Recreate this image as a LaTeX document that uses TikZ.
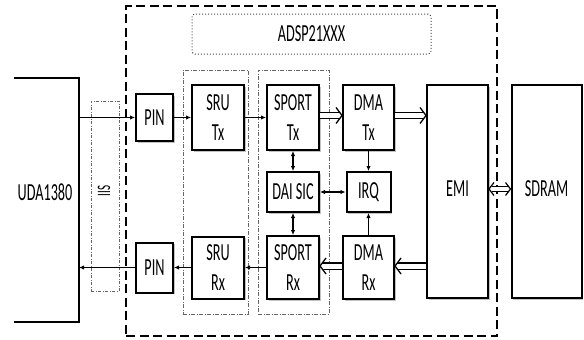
\documentclass[tikz,border=0pt]{standalone}
\usepackage{fontspec}
\setmainfont{Carlito}[FakeStretch=0.58]
\usetikzlibrary{arrows.meta,shadows}
\newcommand{\hbus}[3]{% start, end, chevron back-shift (6pt points right, -6pt points left)
  \draw[busline,shorten >=2.4pt] (#1) -- (#2);
  \draw[busline tip] ([xshift=-#3,yshift=8pt]#2) -- (#2) -- ([xshift=-#3,yshift=-8pt]#2);
}
\begin{document}
\begin{tikzpicture}[x=1pt,y=-1pt,
 blk/.style={draw,line width=2pt,fill=white,inner sep=0pt,align=center,
   font=\fontsize{24.5}{30}\selectfont,
   drop shadow={shadow xshift=1.5pt,shadow yshift=-1.5pt,fill=black!40,opacity=0.6}},
 sarr/.style={line width=1.1pt,-{Latex[length=5pt,width=4.5pt]}},
 darr/.style={line width=1.1pt,{Latex[length=5pt,width=4.5pt]}-{Latex[length=5pt,width=4.5pt]}},
 busline/.style={double,double distance=5pt,line width=1.3pt},
 busline tip/.style={line width=1.3pt,line join=miter},
 grp/.style={draw=black!60,line width=0.6pt,dash pattern=on 4pt off 1.5pt on 1pt off 1.5pt},
 lbl/.style={font=\fontsize{24.5}{28}\selectfont,inner sep=0pt},
]
\useasboundingbox (0,0) rectangle (584,340);

% outer chip frame
\node[draw,line width=1.5pt,dash pattern=on 9pt off 4.5pt,minimum width=371pt,minimum height=330pt,inner sep=0pt] (chip) at (311.5,171) {};
% ADSP label box
\node[draw=black!70,line width=1pt,dotted,rounded corners=3pt,minimum width=239pt,minimum height=40pt,inner sep=0pt,lbl] (adsp) at (311.5,34) {ADSP21XXX};

% group boxes
\node[grp,minimum width=65pt,minimum height=244pt,inner sep=0pt] (gsru) at (215.5,192) {};
\node[grp,minimum width=71pt,minimum height=244pt,inner sep=0pt] (gsport) at (293.5,192) {};

% IIS box
\node[draw=black!60,line width=0.6pt,dash pattern=on 3pt off 1.5pt on 1pt off 1.5pt,minimum width=28pt,minimum height=190pt,inner sep=0pt] (iis) at (105,196) {};
\node[font=\fontsize{19}{22}\selectfont,rotate=90,inner sep=0pt] (iist) at (104,191) {IIS};

% UDA1380 bracket
\draw[line width=2.5pt] (14,78) -- (79,78) -- (79,322) -- (14,322);
\node[lbl] (uda) at (45,192) {UDA1380};
\coordinate (uTx) at (79,117.5);
\coordinate (uRx) at (79,267.5);

% blocks
\node[blk,minimum width=37pt,minimum height=47pt] (pinT) at (154.5,117.5) {PIN};
\node[blk,minimum width=52pt,minimum height=65pt] (sruT) at (218,117.5) {SRU\\Tx};
\node[blk,minimum width=52pt,minimum height=65pt] (sptT) at (293,117.5) {SPORT\\Tx};
\node[blk,minimum width=51pt,minimum height=65pt] (dmaT) at (368.5,117.5) {DMA\\Tx};
\node[blk,minimum width=61pt,minimum height=213pt] (emi) at (457.5,191.5) {\raisebox{6pt}{EMI}};
\node[blk,minimum width=70pt,minimum height=213pt] (sdram) at (546.5,191.5) {\raisebox{6pt}{SDRAM}};
\node[blk,minimum width=52pt,minimum height=40pt] (dai) at (293,192) {DAI SIC};
\node[blk,minimum width=44pt,minimum height=40pt] (irq) at (368.5,192) {IRQ};
\node[blk,minimum width=52pt,minimum height=63pt] (sptR) at (293,267.5) {SPORT\\Rx};
\node[blk,minimum width=51pt,minimum height=63pt] (dmaR) at (368.5,267.5) {DMA\\Rx};
\node[blk,minimum width=52pt,minimum height=62pt] (sruR) at (218,267.5) {SRU\\Rx};
\node[blk,minimum width=37pt,minimum height=50pt] (pinR) at (154.5,267.5) {PIN};

% single arrows
\draw[sarr] (uTx) -- (pinT.west);
\draw[sarr] (pinT) -- (sruT);
\draw[sarr] (sruT) -- (sptT);
\draw[sarr] (sptR) -- (sruR);
\draw[sarr] (sruR) -- (pinR);
\draw[sarr] (pinR.west) -- (uRx);
\draw[darr] (sptT) -- (dai);
\draw[darr] (dai) -- (sptR);
\draw[darr] (dai) -- (irq);
\draw[sarr] (dmaT) -- (irq);
\draw[sarr] (dmaR) -- (irq);

% bus end points
\coordinate (b1s) at ([yshift=2pt]sptT.east);
\coordinate (b1e) at ([yshift=2pt]dmaT.west);
\coordinate (b2s) at ([yshift=2pt]dmaT.east);
\coordinate (b2e) at (emi.west |- b2s);
\coordinate (b3e) at ([yshift=1.5pt]dmaR.east);
\coordinate (b3s) at (emi.west |- b3e);
\coordinate (b4s) at ([yshift=1.5pt]dmaR.west);
\coordinate (b4e) at ([yshift=1.5pt]sptR.east);
\coordinate (b5a) at ([yshift=2.5pt]emi.east);
\coordinate (b5b) at ([yshift=2.5pt]sdram.west);

% buses
\hbus{b1s}{b1e}{6pt}
\hbus{b2s}{b2e}{6pt}
\hbus{b3s}{b3e}{-6pt}
\hbus{b4s}{b4e}{-6pt}
\draw[double,double distance=4pt,line width=1.2pt,shorten >=2.6pt,shorten <=2.6pt] (b5a) -- (b5b);
\draw[busline tip,line width=1.2pt] ([xshift=5pt,yshift=6.5pt]b5a) -- (b5a) -- ([xshift=5pt,yshift=-6.5pt]b5a);
\draw[busline tip,line width=1.2pt] ([xshift=-5pt,yshift=6.5pt]b5b) -- (b5b) -- ([xshift=-5pt,yshift=-6.5pt]b5b);
\end{tikzpicture}
\end{document}
